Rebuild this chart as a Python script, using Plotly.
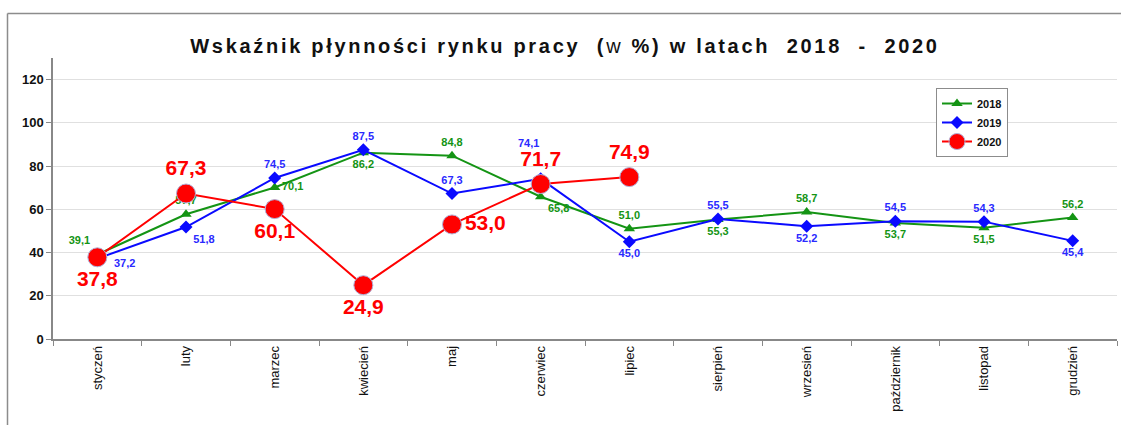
import plotly.graph_objects as go

months = ["styczeń", "luty", "marzec", "kwiecień", "maj", "czerwiec", "lipiec",
          "sierpień", "wrzesień", "październik", "listopad", "grudzień"]
v2018 = [39.1, 57.7, 70.1, 86.2, 84.8, 65.8, 51.0, 55.3, 58.7, 53.7, 51.5, 56.2]
v2019 = [37.2, 51.8, 74.5, 87.5, 67.3, 74.1, 45.0, 55.5, 52.2, 54.5, 54.3, 45.4]
v2020 = [37.8, 67.3, 60.1, 24.9, 53.0, 71.7, 74.9]
y_ticks = [0, 20, 40, 60, 80, 100, 120]

pos2018 = ["top left", "top center", "middle right", "bottom center", "top center", "bottom right",
           "top center", "bottom center", "top center", "bottom center", "bottom center", "top center"]
pos2019 = ["middle right", "bottom right", "top center", "top center", "top center", "top left",
           "bottom center", "top center", "bottom center", "top center", "top center", "bottom center"]
pos2020 = ["bottom center", "top center", "bottom center", "bottom center", "middle right",
           "top center", "top center"]
# 2019 labels drawn as shifted annotations: index -> (xshift, yshift) in px
shift2019 = {0: (27, -4), 5: (-12, 36)}

GREEN = "#149414"
BLUE = "#0a0aff"
BLUE_TXT = "#2a2aff"
RED = "#ff0000"
FONT = "Liberation Sans, Arial, sans-serif"


def fmt(v):
    return f"{v:.1f}".replace(".", ",")


txt2019 = [("" if i in shift2019 else fmt(v)) for i, v in enumerate(v2019)]

fig = go.Figure()
fig.add_trace(go.Scatter(
    x=months, y=v2018, name="2018", mode="lines+markers+text",
    line=dict(color=GREEN, width=2),
    marker=dict(symbol="triangle-up", size=10, color=GREEN),
    text=[fmt(v) for v in v2018], textposition=pos2018,
    textfont=dict(color=GREEN, size=11, family=FONT, weight="bold"),
))
fig.add_trace(go.Scatter(
    x=months, y=v2019, name="2019", mode="lines+markers+text",
    line=dict(color=BLUE, width=2),
    marker=dict(symbol="diamond", size=10, color=BLUE),
    text=txt2019, textposition=pos2019,
    textfont=dict(color=BLUE_TXT, size=11, family=FONT, weight="bold"),
))
fig.add_trace(go.Scatter(
    x=months[:len(v2020)], y=v2020, name="2020", mode="lines+markers+text",
    line=dict(color=RED, width=2),
    marker=dict(symbol="circle", size=19, color=RED, line=dict(color="#b0b0d8", width=1)),
    text=[fmt(v) for v in v2020], textposition=pos2020,
    textfont=dict(color=RED, size=21, family=FONT, weight="bold"),
))

annotations = [
    dict(x=months[i], y=v2019[i], xref="x", yref="y", text=fmt(v2019[i]), showarrow=False,
         xshift=sx, yshift=sy, font=dict(color=BLUE_TXT, size=11, family=FONT, weight="bold"))
    for i, (sx, sy) in shift2019.items()
]

L, R, T, B = 53, 4, 58, 86
W, H = 1121, 425
pw = W - L - R
ph = H - T - B

def px_x(x):
    return (x - L) / pw

def px_y(y):
    return (H - B - y) / ph

shapes = [
    dict(type="line", xref="paper", yref="paper", x0=px_x(7.5), x1=px_x(7.5), y0=px_y(425), y1=px_y(13.5),
         line=dict(color="#8c8c8c", width=1.5)),
    dict(type="line", xref="paper", yref="paper", x0=px_x(7.5), x1=px_x(1121), y0=px_y(13.5), y1=px_y(13.5),
         line=dict(color="#8c8c8c", width=1.5)),
]

title_txt = ("<span style='letter-spacing:2.7px'><b>Wskaźnik płynności rynku pracy  (</b>w"
             "<b> %) w latach  2018  -  2020</b></span>")

fig.update_layout(
    width=W, height=H,
    margin=dict(l=L, r=R, t=T, b=B),
    paper_bgcolor="white", plot_bgcolor="white",
    font=dict(family=FONT, color="#111111"),
    title=dict(
        text=title_txt,
        x=0.504, xref="container", xanchor="center", y=1 - 45.5 / 425, yanchor="middle",
        font=dict(size=20, family=FONT, color="#111111"),
    ),
    showlegend=True,
    legend=dict(
        x=px_x(936), y=px_y(88), xanchor="left", yanchor="top",
        bordercolor="#8c8c8c", borderwidth=1, bgcolor="white",
        font=dict(size=11, family=FONT, weight="bold", color="#111111"),
        itemsizing="trace", itemwidth=30, tracegroupgap=0,
    ),
    shapes=shapes,
    annotations=annotations,
    hovermode=False,
)
fig.update_xaxes(
    type="category", categoryorder="array", categoryarray=months,
    tickangle=-90, tickson="boundaries", ticks="outside", ticklen=5, tickcolor="#888888",
    showline=True, linecolor="#888888", linewidth=1.5, showgrid=False,
    tickfont=dict(size=13, family=FONT, color="#111111"),
    range=[-0.5, 11.5],
)
fig.update_yaxes(
    range=[0, 130], tickvals=y_ticks, ticks="outside", ticklen=5, tickcolor="#888888",
    showline=True, linecolor="#888888", linewidth=1.5,
    showgrid=True, gridcolor="#e0e0e0", gridwidth=1, zeroline=False,
    tickfont=dict(size=13, family=FONT, color="#111111", weight="bold"),
)

fig.write_html("out.html", config={"displayModeBar": False},
               post_script="document.body.style.margin='0px';")
